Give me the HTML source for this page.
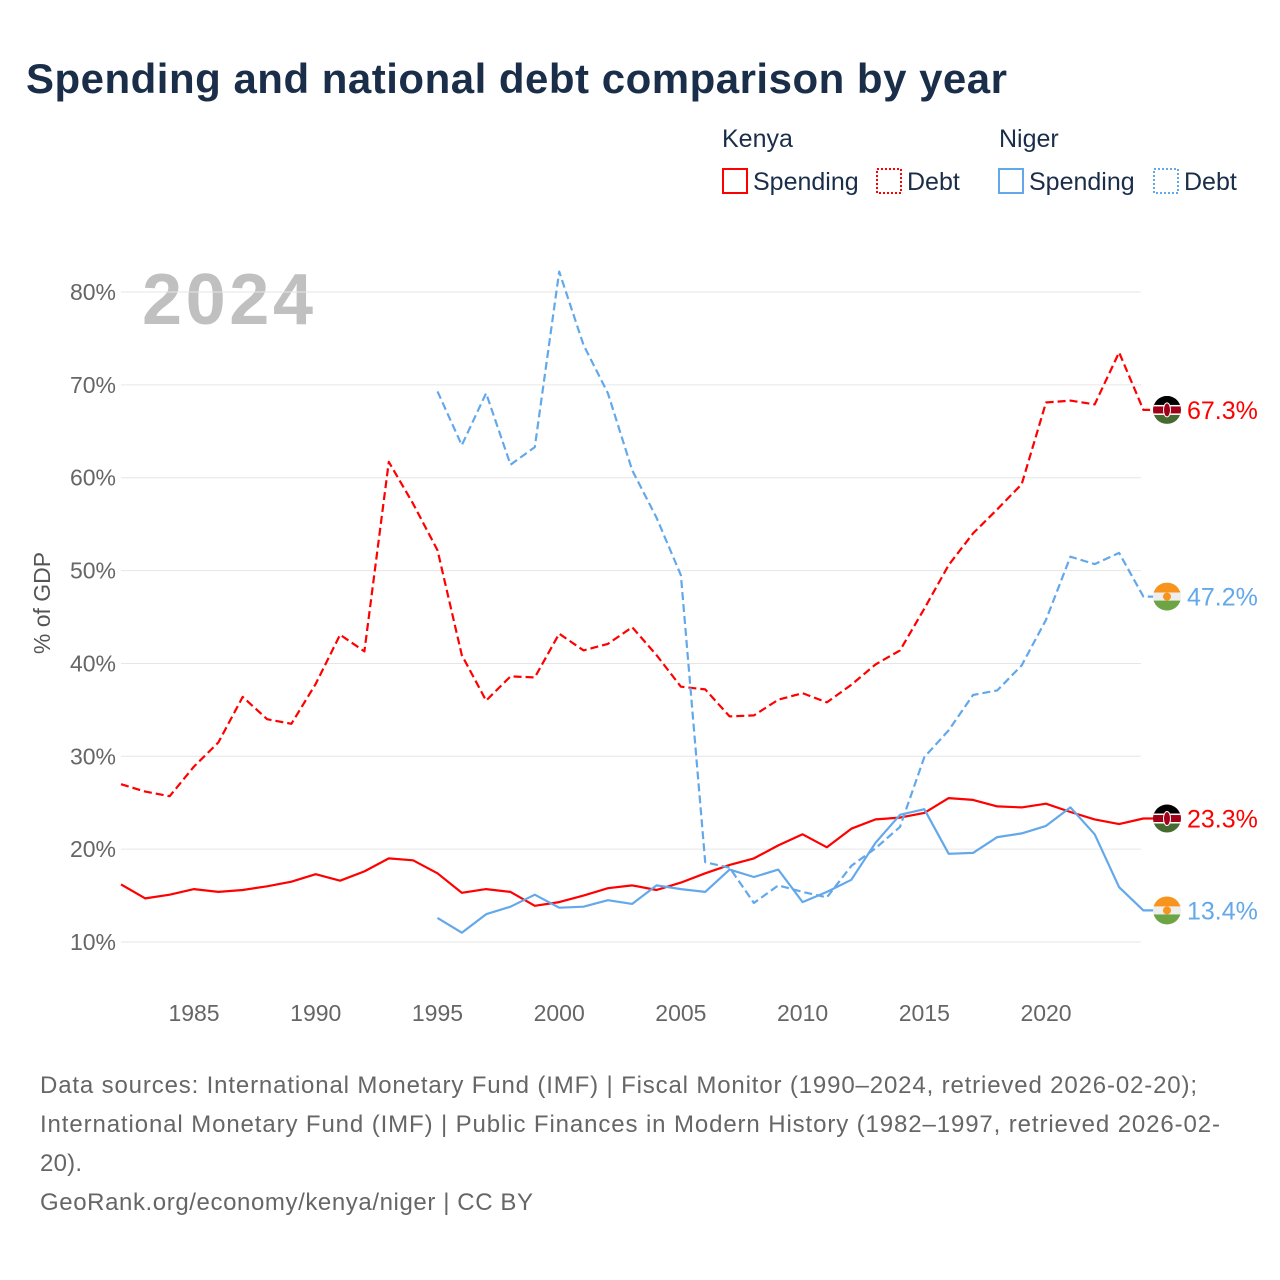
<!DOCTYPE html>
<html><head><meta charset="utf-8">
<style>
body{margin:0;background:#fff;font-family:"Liberation Sans",sans-serif;}
#wrap{position:relative;width:1280px;height:1280px;overflow:hidden;}
</style></head>
<body>
<div id="wrap">
<svg id="chart" width="1280" height="1280" font-family="Liberation Sans, sans-serif">
<text x="26" y="93" font-size="42" font-weight="bold" fill="#1a2e4a" textLength="981">Spending and national debt comparison by year</text>
<g font-size="25" fill="#1a2e4a">
<text x="722" y="147">Kenya</text>
<text x="999" y="147">Niger</text>
<g><rect x="723" y="169" width="24" height="24" fill="none" stroke="#f00" stroke-width="2"/><text x="753" y="190">Spending</text></g>
<g><rect x="877" y="169" width="24" height="24" fill="none" stroke="#f00" stroke-width="2" stroke-dasharray="2,2"/><text x="907" y="190">Debt</text></g>
<g><rect x="999" y="169" width="24" height="24" fill="none" stroke="#63a8eb" stroke-width="2"/><text x="1029" y="190">Spending</text></g>
<g><rect x="1154" y="169" width="24" height="24" fill="none" stroke="#63a8eb" stroke-width="2" stroke-dasharray="2,2"/><text x="1184" y="190">Debt</text></g>
</g>
<text x="142" y="324" font-size="72" font-weight="bold" fill="#c0c0c0" textLength="171">2024</text>
<text transform="translate(50,603) rotate(-90)" text-anchor="middle" font-size="23" fill="#555">% of GDP</text>
<g id="grid"></g><g id="xt"></g><g id="lines"></g><g id="ends"></g>
<g font-size="24" fill="#666">
<text x="40" y="1093" textLength="1157">Data sources: International Monetary Fund (IMF) | Fiscal Monitor (1990–2024, retrieved 2026-02-20);</text>
<text x="40" y="1132" textLength="1180">International Monetary Fund (IMF) | Public Finances in Modern History (1982–1997, retrieved 2026-02-</text>
<text x="40" y="1171" textLength="42">20).</text>
<text x="40" y="1210" textLength="493">GeoRank.org/economy/kenya/niger | CC BY</text>
</g>
</svg>
</div>
<script>
const yTicks=[10,20,30,40,50,60,70,80];
const xTicks=[1985,1990,1995,2000,2005,2010,2015,2020];
const kenyaYears=[1982,1983,1984,1985,1986,1987,1988,1989,1990,1991,1992,1993,1994,1995,1996,1997,1998,1999,2000,2001,2002,2003,2004,2005,2006,2007,2008,2009,2010,2011,2012,2013,2014,2015,2016,2017,2018,2019,2020,2021,2022,2023,2024];
const kenyaDebt=[27.0,26.2,25.7,28.9,31.5,36.4,34.0,33.5,37.8,43.1,41.3,61.7,57.2,52.2,40.9,36.0,38.6,38.5,43.2,41.4,42.1,43.9,40.9,37.5,37.2,34.3,34.4,36.1,36.8,35.8,37.7,39.9,41.4,45.9,50.6,54.0,56.6,59.3,68.1,68.3,67.9,73.5,67.3];
const kenyaSpending=[16.2,14.7,15.1,15.7,15.4,15.6,16.0,16.5,17.3,16.6,17.6,19.0,18.8,17.4,15.3,15.7,15.4,13.9,14.3,15.0,15.8,16.1,15.6,16.4,17.4,18.3,19.0,20.4,21.6,20.2,22.2,23.2,23.4,23.9,25.5,25.3,24.6,24.5,24.9,24.0,23.2,22.7,23.3];
const nigerYears=[1995,1996,1997,1998,1999,2000,2001,2002,2003,2004,2005,2006,2007,2008,2009,2010,2011,2012,2013,2014,2015,2016,2017,2018,2019,2020,2021,2022,2023,2024];
const nigerDebt=[69.3,63.5,69.1,61.4,63.3,82.2,74.3,69.1,60.8,55.7,49.5,18.6,18.0,14.2,16.1,15.4,14.8,18.2,20.1,22.4,29.9,32.8,36.6,37.1,39.8,44.7,51.5,50.7,51.9,47.2];
const nigerSpending=[12.6,11.0,13.0,13.8,15.1,13.7,13.8,14.5,14.1,16.1,15.7,15.4,17.8,17.0,17.8,14.3,15.4,16.7,20.7,23.7,24.3,19.5,19.6,21.3,21.7,22.5,24.5,21.6,15.9,13.4];

const NS='http://www.w3.org/2000/svg';
const X=y=>121+(y-1982)*24.343;
const Y=v=>292+(80-v)*9.286;
function mk(tag,attrs,parent){const e=document.createElementNS(NS,tag);for(const k in attrs)e.setAttribute(k,attrs[k]);parent.appendChild(e);return e;}
const grid=document.getElementById('grid');
yTicks.forEach(t=>{
 const l=mk('line',{x1:121,x2:1141,y1:Y(t),y2:Y(t),stroke:'#e6e6e6','stroke-width':1},grid);
 
 
 const tx=mk('text',{x:116,y:Y(t)+8,'text-anchor':'end','font-size':23,fill:'#666'},grid);
 tx.textContent=t+'%';
 
 
});
const xt=document.getElementById('xt');
xTicks.forEach(t=>{
 const tx=mk('text',{x:X(t),y:1021,'text-anchor':'middle','font-size':23,fill:'#666'},xt);
 tx.textContent=t;
 
 
});
const lines=document.getElementById('lines');
function series(years,vals,color,dash,name){
 const d=years.map((y,i)=>(i?'L':'M')+X(y).toFixed(1)+','+Y(vals[i]).toFixed(1)).join(' ')+' L1157,'+Y(vals[vals.length-1]).toFixed(1);
 const p=mk('path',{d:d,fill:'none',stroke:color,'stroke-width':2.2,'stroke-dasharray':dash?'8,4':'none','stroke-linejoin':'round'},lines);
 
 
}
series(kenyaYears,kenyaDebt,'#f00',true,'kenya-debt-line');
series(kenyaYears,kenyaSpending,'#f00',false,'kenya-spending-line');
series(nigerYears,nigerDebt,'#63a8eb',true,'niger-debt-line');
series(nigerYears,nigerSpending,'#63a8eb',false,'niger-spending-line');
const ends=document.getElementById('ends');
function flag(v,country,color,name){
 const cy=Y(v),cx=1167;
 const g=mk('g',{},ends);
 
 
 const cid='c'+name;
 const cp=mk('clipPath',{id:cid},g);mk('circle',{cx:cx,cy:cy,r:14},cp);
 const gg=mk('g',{'clip-path':'url(#'+cid+')'},g);
 if(country==='kenya'){
  mk('rect',{x:cx-14,y:cy-14,width:28,height:10,fill:'#000'},gg);
  mk('rect',{x:cx-14,y:cy-4,width:28,height:8,fill:'#a00018'},gg);
  mk('rect',{x:cx-14,y:cy+4,width:28,height:10,fill:'#456b30'},gg);
  mk('rect',{x:cx-14,y:cy-5,width:28,height:1.5,fill:'#fff'},gg);
  mk('rect',{x:cx-14,y:cy+3.5,width:28,height:1.5,fill:'#fff'},gg);
  mk('ellipse',{cx:cx,cy:cy,rx:3.5,ry:7,fill:'#a00018',stroke:'#fff','stroke-width':1},gg);
 }else{
  mk('rect',{x:cx-14,y:cy-14,width:28,height:10,fill:'#f7941d'},gg);
  mk('rect',{x:cx-14,y:cy-4,width:28,height:8,fill:'#eee'},gg);
  mk('rect',{x:cx-14,y:cy+4,width:28,height:10,fill:'#6ea544'},gg);
  mk('circle',{cx:cx,cy:cy,r:4,fill:'#f7941d'},gg);
 }
 const t=mk('text',{x:1187,y:cy+9,'font-size':25,fill:color},ends);
 t.textContent=v.toFixed(1)+'%';
 
 
}
flag(kenyaDebt[kenyaDebt.length-1],'kenya','#f00','kenya-debt');
flag(nigerDebt[nigerDebt.length-1],'niger','#63a8eb','niger-debt');
flag(kenyaSpending[kenyaSpending.length-1],'kenya','#f00','kenya-spending');
flag(nigerSpending[nigerSpending.length-1],'niger','#63a8eb','niger-spending');
</script>
</body></html>
